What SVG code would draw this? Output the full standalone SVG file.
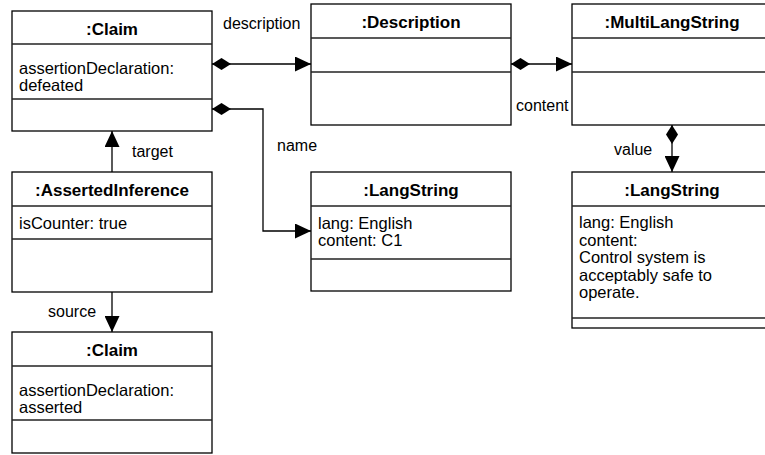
<svg xmlns="http://www.w3.org/2000/svg" width="765" height="455" viewBox="0 0 765 455">
<style>
.box{fill:#fff;stroke:#000;stroke-width:1.3}
.sep{stroke:#222;stroke-width:1.3}
.title{font-family:"Liberation Sans",Arial,sans-serif;font-size:17px;font-weight:bold;text-anchor:middle;fill:#000}
.attr{font-family:"Liberation Sans",Arial,sans-serif;font-size:16.5px;fill:#000}
.lbl{font-family:"Liberation Sans",Arial,sans-serif;font-size:16px;fill:#000}
.conn{fill:none;stroke:#000;stroke-width:1.3}
</style>
<defs>
<marker id="arrow" markerUnits="userSpaceOnUse" markerWidth="16" markerHeight="15" refX="16" refY="7.5" orient="auto">
<path d="M0,0 L16,7.5 L0,15 z" fill="#000"/>
</marker>
<marker id="diamond" markerUnits="userSpaceOnUse" markerWidth="19" markerHeight="12" refX="0" refY="6" orient="auto">
<path d="M0,6 L9.5,0 L19,6 L9.5,12 z" fill="#000"/>
</marker>
</defs>
<rect width="765" height="455" fill="#fff"/>

<g id="connectors">
<path class="conn" d="M212,64 H311" marker-start="url(#diamond)" marker-end="url(#arrow)"/>
<path class="conn" d="M212,109 H263 V231 H311" marker-start="url(#diamond)" marker-end="url(#arrow)"/>
<path class="conn" d="M511,64 H572" marker-start="url(#diamond)" marker-end="url(#arrow)"/>
<path class="conn" d="M672,125 V172" marker-start="url(#diamond)" marker-end="url(#arrow)"/>
<path class="conn" d="M112,172 V131" marker-end="url(#arrow)"/>
<path class="conn" d="M112,292 V332" marker-end="url(#arrow)"/>
<text class="lbl" x="223" y="29">description</text>
<text class="lbl" x="277" y="151">name</text>
<text class="lbl" x="516" y="110.5">content</text>
<text class="lbl" x="614" y="155">value</text>
<text class="lbl" x="132" y="157">target</text>
<text class="lbl" x="48" y="317">source</text>
</g>

<g id="claim1">
<rect class="box" x="12" y="11" width="200" height="120"/>
<line class="sep" x1="12" y1="44" x2="212" y2="44"/>
<line class="sep" x1="12" y1="99" x2="212" y2="99"/>
<text class="title" x="112" y="35">:Claim</text>
<text class="attr" x="19" y="73.5">assertionDeclaration:</text>
<text class="attr" x="19" y="90.5">defeated</text>
</g>

<g id="description">
<rect class="box" x="311" y="4" width="200" height="121"/>
<line class="sep" x1="311" y1="38" x2="511" y2="38"/>
<line class="sep" x1="311" y1="72" x2="511" y2="72"/>
<text class="title" x="411" y="28">:Description</text>
</g>

<g id="multilangstring">
<rect class="box" x="572" y="4" width="200" height="121"/>
<line class="sep" x1="572" y1="38" x2="772" y2="38"/>
<line class="sep" x1="572" y1="72" x2="772" y2="72"/>
<text class="title" x="672" y="28">:MultiLangString</text>
</g>

<g id="assertedinference">
<rect class="box" x="12" y="172" width="200" height="120"/>
<line class="sep" x1="12" y1="206" x2="212" y2="206"/>
<line class="sep" x1="12" y1="239" x2="212" y2="239"/>
<text class="title" x="112" y="196">:AssertedInference</text>
<text class="attr" x="19" y="229">isCounter: true</text>
</g>

<g id="langstring1">
<rect class="box" x="311" y="172" width="200" height="119"/>
<line class="sep" x1="311" y1="206" x2="511" y2="206"/>
<line class="sep" x1="311" y1="259" x2="511" y2="259"/>
<text class="title" x="411" y="196">:LangString</text>
<text class="attr" x="318" y="228.5">lang: English</text>
<text class="attr" x="318" y="246">content: C1</text>
</g>

<g id="langstring2">
<rect class="box" x="572" y="172" width="200" height="156"/>
<line class="sep" x1="572" y1="206" x2="772" y2="206"/>
<line class="sep" x1="572" y1="318" x2="772" y2="318"/>
<text class="title" x="672" y="196">:LangString</text>
<text class="attr" x="579" y="228">lang: English</text>
<text class="attr" x="579" y="245.5">content:</text>
<text class="attr" x="579" y="263">Control system is</text>
<text class="attr" x="579" y="280.5">acceptably safe to</text>
<text class="attr" x="579" y="298">operate.</text>
</g>

<g id="claim2">
<rect class="box" x="12" y="332" width="200" height="121"/>
<line class="sep" x1="12" y1="366" x2="212" y2="366"/>
<line class="sep" x1="12" y1="420" x2="212" y2="420"/>
<text class="title" x="112" y="356">:Claim</text>
<text class="attr" x="19" y="395.5">assertionDeclaration:</text>
<text class="attr" x="19" y="412.5">asserted</text>
</g>
</svg>
